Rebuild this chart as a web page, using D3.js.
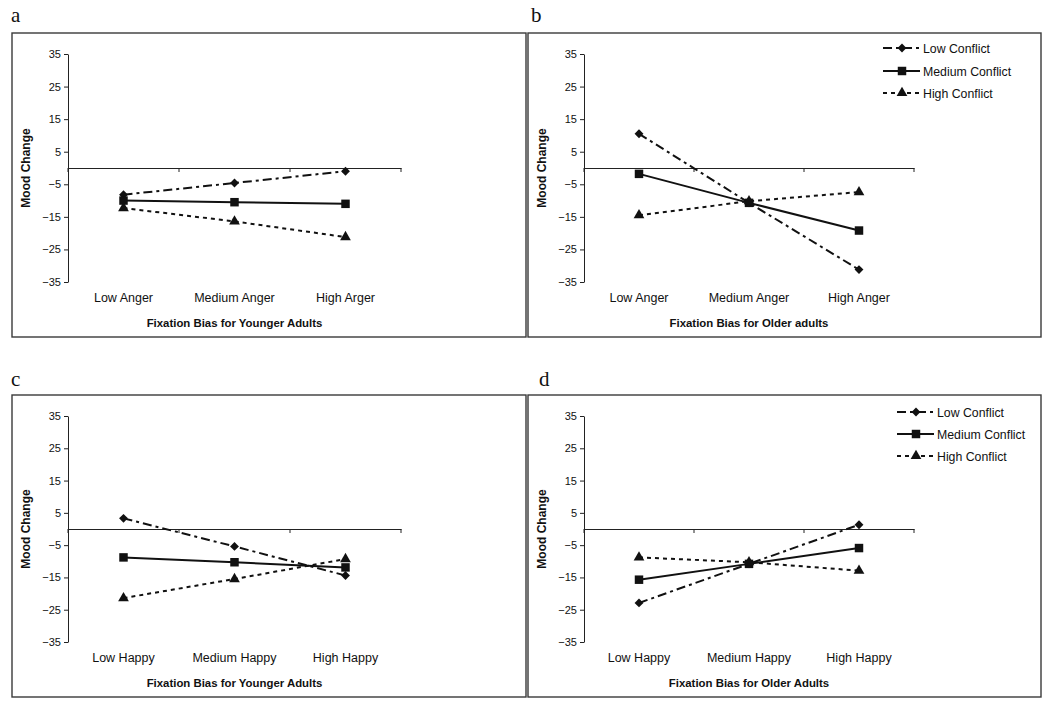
<!DOCTYPE html>
<html><head><meta charset="utf-8">
<script src="https://cdn.jsdelivr.net/npm/d3@7"></script>
<style>
body{margin:0;background:#fff;}
svg{display:block;}
text{font-family:"Liberation Sans",Arial,sans-serif;fill:#111;}
</style></head>
<body><svg id="chart" width="1050" height="705"></svg>
<script>
// ---- data ----
const seriesNames = ["Low Conflict","Medium Conflict","High Conflict"];
const yTicks = [35,25,15,5,-5,-15,-25,-35];
const catsA = ["Low Anger","Medium Anger","High Arger"];
const catsB = ["Low Anger","Medium Anger","High Anger"];
const catsHappy = ["Low Happy","Medium Happy","High Happy"];
// panel a: anger, younger adults
const aLow = [-8.2,-4.6,-1.0];
const aMed = [-10.0,-10.5,-11.0];
const aHigh = [-12.3,-16.4,-21.2];
// panel b: anger, older adults
const bLow = [10.5,-10.7,-31.2];
const bMed = [-1.8,-10.7,-19.2];
const bHigh = [-14.5,-10.2,-7.4];
// panel c: happy, younger adults
const cLow = [3.3,-5.4,-14.4];
const cMed = [-8.8,-10.3,-11.9];
const cHigh = [-21.4,-15.5,-9.3];
// panel d: happy, older adults
const dLow = [-22.9,-10.8,1.3];
const dMed = [-15.7,-10.8,-5.9];
const dHigh = [-8.8,-10.3,-12.9];

const panels = [
  {label:"a", cats:catsA, data:[aLow,aMed,aHigh], title:"Fixation Bias for Younger Adults", legend:false,
   frame:[12,33,526,337], x0:68, x1:401, yT:54, yB:282, lab:[11,22]},
  {label:"b", cats:catsB, data:[bLow,bMed,bHigh], title:"Fixation Bias for Older adults", legend:true,
   frame:[528,33,1041,337], x0:584, x1:914, yT:54, yB:282, lab:[531,22]},
  {label:"c", cats:catsHappy, data:[cLow,cMed,cHigh], title:"Fixation Bias for Younger Adults", legend:false,
   frame:[12,395,526,697], x0:68, x1:401, yT:416, yB:642, lab:[11,386]},
  {label:"d", cats:catsHappy, data:[dLow,dMed,dHigh], title:"Fixation Bias for Older Adults", legend:true,
   frame:[528,395,1041,697], x0:584, x1:914, yT:416, yB:642, lab:[539,386]}
];

const dashes = ["9,4,3,4", null, "4,4"];
const symbols = [d3.symbolDiamond2, d3.symbolSquare, d3.symbolTriangle];
const symSizes = [50, 72, 50];

const svg = d3.select("#chart");

panels.forEach(p => {
  const g = svg.append("g");
  // frame
  g.append("rect").attr("x",p.frame[0]).attr("y",p.frame[1])
    .attr("width",p.frame[2]-p.frame[0]).attr("height",p.frame[3]-p.frame[1])
    .attr("fill","#fff").attr("stroke","#3a3a3a").attr("stroke-width",1.4);
  // panel label
  svg.append("text").attr("x",p.lab[0]).attr("y",p.lab[1]).text(p.label)
    .style("font-family","'Liberation Serif','Times New Roman',serif").style("font-size","21px");

  const x = d3.scaleBand().domain(p.cats).range([p.x0,p.x1]);
  const xc = c => x(c) + x.bandwidth()/2;
  const y = d3.scaleLinear().domain([-35,35]).range([p.yB,p.yT]);

  // y axis
  const ya = g.append("g").attr("transform",`translate(${p.x0},0)`)
    .call(d3.axisLeft(y).tickValues(yTicks).tickSize(4).tickSizeOuter(0).tickPadding(3));
  ya.select(".domain").attr("stroke","#222");
  ya.selectAll(".tick line").attr("stroke","#222");
  ya.selectAll("text").style("font-family","'Liberation Sans',Arial,sans-serif").style("font-size","11px").attr("fill","#111");

  // x axis at zero
  const xa = g.append("g").attr("transform",`translate(0,${y(0)})`)
    .call(d3.axisBottom(x).tickSize(0).tickFormat(""));
  xa.select(".domain").attr("stroke","#222");
  const bounds = p.cats.map(c => x(c)).concat([p.x1]);
  g.selectAll(".xt").data(bounds).enter().append("line")
    .attr("x1",d=>d).attr("x2",d=>d).attr("y1",y(0)).attr("y2",y(0)+4).attr("stroke","#222");

  // category labels
  g.selectAll(".cl").data(p.cats).enter().append("text")
    .attr("x",d=>xc(d)).attr("y",p.yB+19.5).attr("text-anchor","middle")
    .style("font-size","12.5px").text(d=>d);
  // x title
  g.append("text").attr("x",(p.x0+p.x1)/2).attr("y",p.yB+44.5).attr("text-anchor","middle")
    .style("font-size","11.4px").style("font-weight","bold").text(p.title);
  // y title
  g.append("text").attr("transform",`translate(${p.x0-38},${(p.yT+p.yB)/2}) rotate(-90)`)
    .attr("text-anchor","middle").style("font-size","12px").style("font-weight","bold").text("Mood Change");

  // series
  const line = d3.line().x(d=>xc(d.c)).y(d=>y(d.v));
  p.data.forEach((vals,si) => {
    const pts = p.cats.map((c,i)=>({c:c,v:vals[i]}));
    g.append("path").datum(pts).attr("d",line).attr("fill","none")
      .attr("stroke","#111").attr("stroke-width",2)
      .attr("stroke-dasharray",dashes[si]);
    g.selectAll(".m"+si).data(pts).enter().append("path")
      .attr("transform",d=>`translate(${xc(d.c)},${y(d.v)})`)
      .attr("d",d3.symbol().type(symbols[si]).size(symSizes[si])).attr("fill","#111");
  });

  // legend
  if (p.legend) {
    const lx = p.label==="b" ? 883 : 897;
    const ly = p.label==="b" ? [48,71,93] : [412,434,456];
    seriesNames.forEach((nm,si) => {
      const lg = g.append("g").attr("transform",`translate(${lx},${ly[si]})`);
      lg.append("line").attr("x1",0).attr("x2",37).attr("y1",0).attr("y2",0)
        .attr("stroke","#111").attr("stroke-width",2).attr("stroke-dasharray",dashes[si]);
      lg.append("path").attr("transform","translate(19,0)")
        .attr("d",d3.symbol().type(symbols[si]).size(symSizes[si])).attr("fill","#111");
      lg.append("text").attr("x",40).attr("y",4.5).style("font-size","12.3px").text(nm);
    });
  }
});
</script></body></html>
